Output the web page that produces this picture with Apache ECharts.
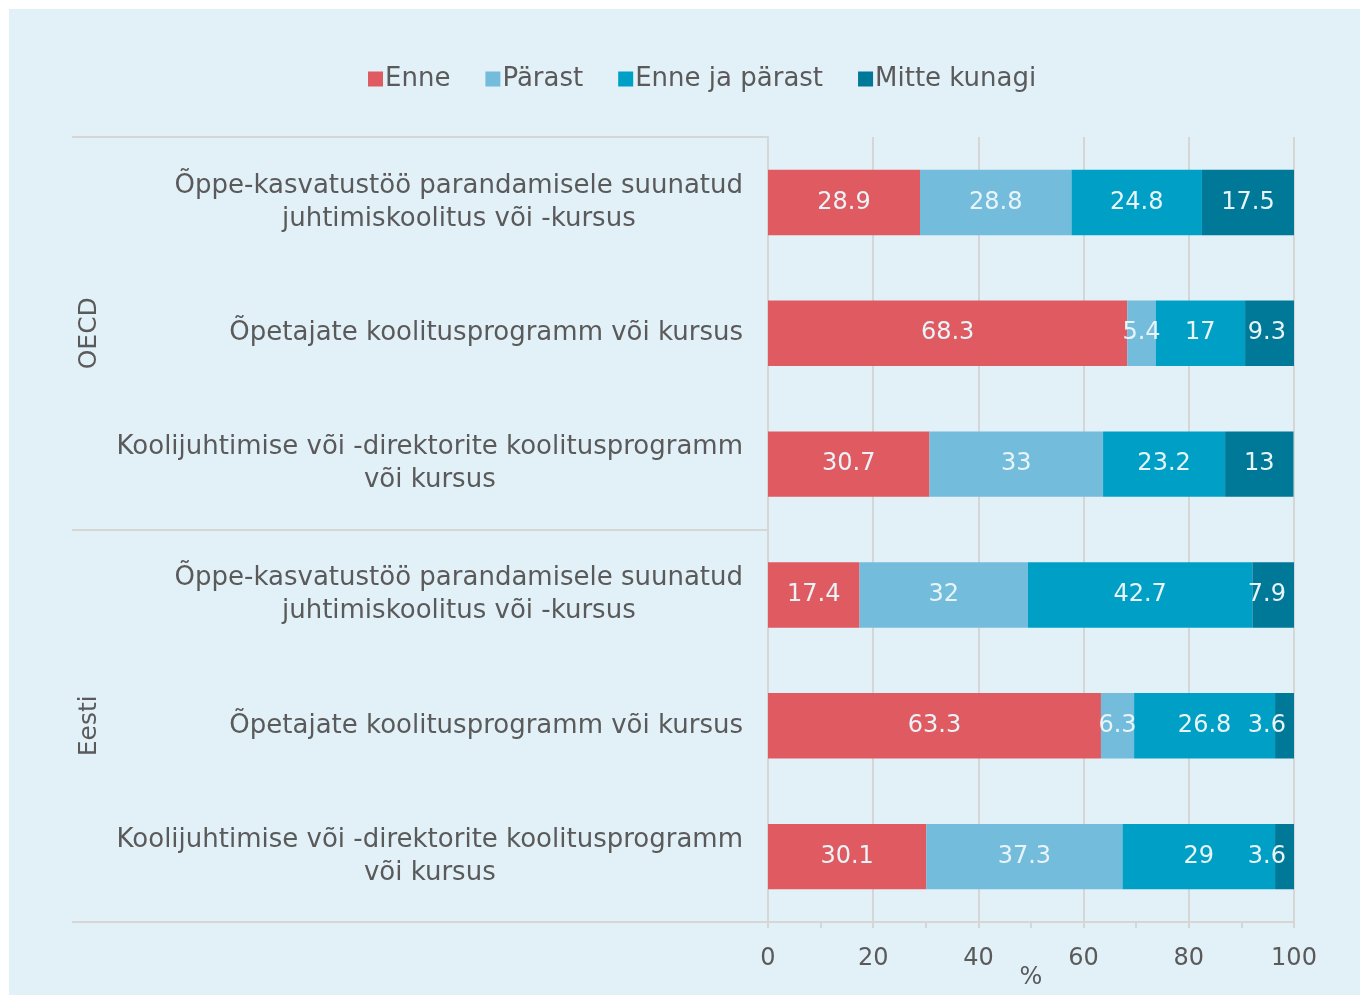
<!DOCTYPE html>
<html>
<head>
<meta charset="utf-8">
<script src="https://cdn.jsdelivr.net/npm/echarts@6/dist/echarts.min.js"></script>
<style>
  html, body { margin: 0; padding: 0; background: #fff; }
  #panel { position: absolute; left: 9px; top: 9px; width: 1351px; height: 986px; background: #e2f0f8; }
  #chart { position: absolute; left: 0; top: 0; width: 1360px; height: 997px; }
</style>
</head>
<body>
<div id="panel"></div>
<div id="chart"></div>
<script>
// andmed (ülalt alla)
const categories = [
  'Õppe-kasvatustöö parandamisele suunatud\njuhtimiskoolitus või -kursus',
  'Õpetajate koolitusprogramm või kursus',
  'Koolijuhtimise või -direktorite koolitusprogramm\nvõi kursus',
  'Õppe-kasvatustöö parandamisele suunatud\njuhtimiskoolitus või -kursus',
  'Õpetajate koolitusprogramm või kursus',
  'Koolijuhtimise või -direktorite koolitusprogramm\nvõi kursus'
]
const groups = ['OECD', 'Eesti']
const seriesNames = ['Enne', 'Pärast', 'Enne ja pärast', 'Mitte kunagi']
const enne = [28.9, 68.3, 30.7, 17.4, 63.3, 30.1]
const parast = [28.8, 5.4, 33, 32, 6.3, 37.3]
const enneJaParast = [24.8, 17, 23.2, 42.7, 26.8, 29]
const mitteKunagi = [17.5, 9.3, 13, 7.9, 3.6, 3.6]
const xTicks = [0, 20, 40, 60, 80, 100]

const colors = ['#e05a62', '#74bcdc', '#00a0c6', '#007898']
const textColor = '#5a5a5a'
const font = 'DejaVu Sans'
const lineColor = '#d6d6d6'

const chart = echarts.init(document.getElementById('chart'))

const values = [enne, parast, enneJaParast, mitteKunagi]
const series = seriesNames.map((name, i) => ({
  name,
  type: 'bar',
  stack: 'total',
  barWidth: '50%',
  itemStyle: { color: colors[i] },
  label: {
    show: true,
    position: 'inside',
    color: '#e8f4f8',
    fontSize: 24,
    fontFamily: font
  },
  // viimase sarja väikesed sildid hoitakse joonisala sees
  data: values[i].map(v =>
    i === 3 && v < 10
      ? { value: v, label: { position: 'insideRight', distance: 8 } }
      : v
  )
}))

const option = {
  backgroundColor: 'transparent',
  animation: false,
  legend: {
    top: 61,
    left: 363,
    icon: 'rect',
    itemWidth: 15,
    itemHeight: 15,
    itemGap: 35,
    textStyle: { fontSize: 26, color: textColor, fontFamily: font, padding: [0, 0, 0, -3] },
    data: seriesNames
  },
  grid: { left: 768, right: 66, top: 137, bottom: 75, containLabel: false, outerBoundsMode: 'none' },
  xAxis: {
    type: 'value',
    min: 0,
    max: 100,
    interval: 20,
    name: '%',
    nameLocation: 'middle',
    nameGap: 44,
    nameMoveOverlap: false,
    nameTextStyle: { fontSize: 24, color: textColor, fontFamily: font },
    axisLine: { show: true, lineStyle: { color: lineColor, width: 2 } },
    axisTick: { show: true, length: 6, lineStyle: { color: lineColor, width: 2 } },
    minorTick: { show: true, splitNumber: 2, length: 6, lineStyle: { color: lineColor, width: 2 } },
    splitLine: { show: true, lineStyle: { color: lineColor, width: 2 } },
    axisLabel: {
      fontSize: 24, color: textColor, fontFamily: font, margin: 25,
      formatter: v => (xTicks.includes(v) ? String(v) : '')
    }
  },
  yAxis: [
    {
      type: 'category',
      inverse: true,
      data: categories,
      axisLine: { show: true, lineStyle: { color: lineColor, width: 2 } },
      axisTick: { show: false },
      axisLabel: {
        margin: 25,
        formatter: v => v.split('\n').map(s => '{c|' + s + '}').join('\n'),
        rich: {
          c: { align: 'center', fontSize: 26, lineHeight: 33, color: textColor, fontFamily: font }
        }
      }
    },
    {
      type: 'category',
      inverse: true,
      position: 'left',
      data: groups,
      axisLine: { show: false },
      axisTick: { show: true, inside: false, length: 696, lineStyle: { color: lineColor, width: 2 } },
      axisLabel: {
        rotate: 90,
        margin: 666,
        fontSize: 25,
        color: textColor,
        fontFamily: font
      }
    }
  ],
  series
}

chart.setOption(option)
window.addEventListener('resize', () => chart.resize())
</script>
</body>
</html>
